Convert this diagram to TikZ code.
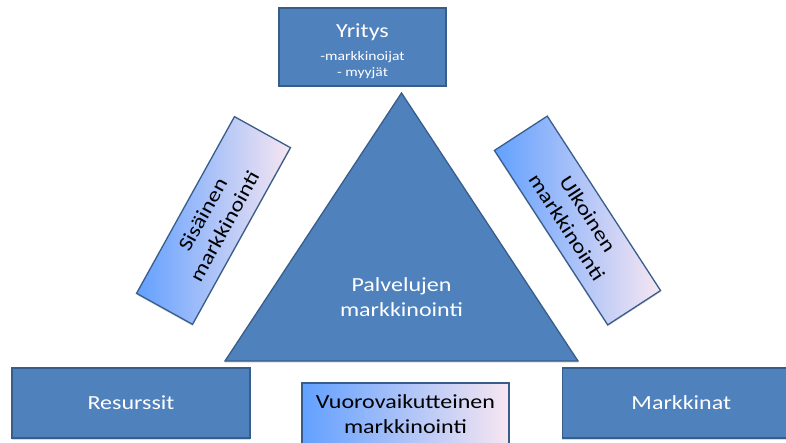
\documentclass[tikz,border=0pt]{standalone}
\usepackage{fontspec}
\setmainfont{Carlito}[FakeStretch=1.2]
\usetikzlibrary{positioning, shadows}
\definecolor{sininenOffice}{HTML}{4F81BD}
\definecolor{reunaOffice}{HTML}{385D8A}
\definecolor{kirkasSininen}{HTML}{62A0FF}
\definecolor{vaaleaPinkki}{HTML}{F7E6F1}
\colorlet{colTaytto}{sininenOffice}
\colorlet{colReuna}{reunaOffice}
\colorlet{colLiukuAlku}{kirkasSininen}
\colorlet{colLiukuLoppu}{vaaleaPinkki}
\tikzset{
  laatikkoBase/.style={
    draw=colReuna, line width=1.3pt, align=center, inner sep=0pt,
    font=\fontsize{20}{25}\selectfont,
    drop shadow={opacity=0.3, shadow xshift=0pt, shadow yshift=-1.5pt}
  },
  laatikkoSininen/.style={laatikkoBase, fill=colTaytto, text=white,
    minimum width=238pt, minimum height=70pt},
  laatikkoLiuku/.style={laatikkoBase, left color=colLiukuAlku,
    right color=colLiukuLoppu, text=black},
  kolmio/.style={draw=colReuna, line width=1.3pt, fill=colTaytto,
    drop shadow={opacity=0.3, shadow xshift=0pt, shadow yshift=-1.5pt}},
  tekstiValkoinen/.style={text=white, align=center, inner sep=0pt,
    font=\fontsize{20}{25}\selectfont},
}

\begin{document}
\begin{tikzpicture}[x=1pt, y=1pt]
  \useasboundingbox (0,0) rectangle (786,442);
  \clip (0,0) rectangle (786,442);

  % kolmio keskella
  \coordinate (huippu) at (401.5,349);
  \coordinate (vasenKulma) at (225,81);
  \coordinate (oikeaKulma) at (578,81);
  \path[kolmio] (huippu) -- (vasenKulma) -- (oikeaKulma) -- cycle;
  \node[tekstiValkoinen] (palvelut) at (401.5,145) {Palvelujen\\markkinointi};

  \node[laatikkoSininen, minimum width=167pt, minimum height=78pt,
        font=\fontsize{13}{15.5}\selectfont] (yritys) at (362.5,395)
        {{\fontsize{20}{24}\selectfont\rule{0pt}{22pt}Yritys}\\[8pt]-markkinoijat\\- myyjät};
  \node[laatikkoSininen] (resurssit) at (131,39) {Resurssit};
  \node[laatikkoSininen, right=311pt of resurssit] (markkinat) {Markkinat};

  % liukuvarilaatikot
  \node[laatikkoLiuku, minimum width=207pt, minimum height=63pt] (vuoro) at (405.5,27.5)
        {Vuorovaikutteinen\\markkinointi};
  \node[laatikkoLiuku, rotate=61, minimum width=202pt, minimum height=64pt] (sisainen)
        at (213.5,221.5) {Sisäinen\\markkinointi};
  \node[laatikkoLiuku, rotate=-57, minimum width=208pt, minimum height=63pt] (ulkoinen)
        at (577.5,221.5) {Ulkoinen\\markkinointi};
\end{tikzpicture}
\end{document}
